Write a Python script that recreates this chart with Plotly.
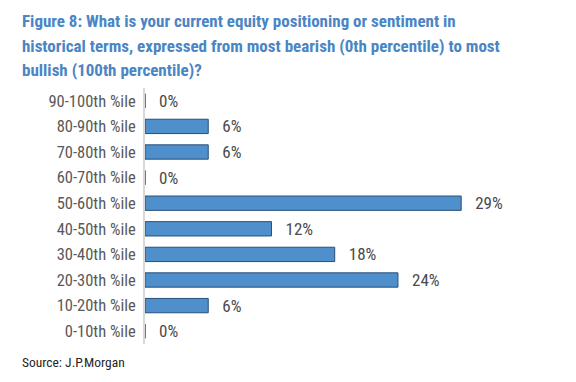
import plotly.graph_objects as go

categories = ["0-10th %ile", "10-20th %ile", "20-30th %ile", "30-40th %ile", "40-50th %ile",
              "50-60th %ile", "60-70th %ile", "70-80th %ile", "80-90th %ile", "90-100th %ile"]
# share of respondents (n=17)
values = [0.0, 1/17, 4/17, 3/17, 2/17, 5/17, 0.0, 1/17, 1/17, 0.0]

title_lines = [
    "Figure 8: What is your current equity positioning or sentiment in",
    "historical terms, expressed from most bearish (0th percentile) to most",
    "bullish (100th percentile)?",
]
source = "Source: J.P.Morgan"

FONT = "Roboto Condensed, Arial Narrow, sans-serif"

fig = go.Figure()
fig.add_trace(go.Bar(
    y=categories, x=values, orientation="h",
    marker=dict(color="#4F8FCC", line=dict(color="#274F7A", width=1)),
    text=["\u00a0\u00a0\u2009" + f"{v:.0%}" for v in values],
    textposition="outside", cliponaxis=False, constraintext="none",
    textfont=dict(family=FONT, size=17, color="#4A4A4A"),
    hoverinfo="skip",
))

W, H = 576, 382
ml, mr, mt, mb = 145, 44, 88, 38
fig.update_layout(
    width=W, height=H,
    margin=dict(l=ml, r=mr, t=mt, b=mb),
    paper_bgcolor="white", plot_bgcolor="white",
    showlegend=False, bargap=0.44,
    xaxis=dict(range=[0, 0.36], visible=False, fixedrange=True),
    yaxis=dict(showline=True, linecolor="#D9D9D9", linewidth=2, ticks="",
               tickfont=dict(family=FONT, size=16.5, color="#595959"),
               ticklabelstandoff=4, showgrid=False, zeroline=False,
               automargin=False, fixedrange=True),
)

baselines = [29, 54, 78]
for line, yb in zip(title_lines, baselines):
    fig.add_annotation(
        text="<b>" + line + "</b>", xref="paper", yref="paper",
        x=(20 - ml) / (W - ml - mr), y=1 + (mt - yb) / (H - mt - mb),
        xanchor="left", yanchor="bottom", showarrow=False, yshift=-4,
        font=dict(family=FONT, size=17, color="#4A85C4"),
    )

fig.add_annotation(
    text=source, xref="paper", yref="paper",
    x=(20 - ml) / (W - ml - mr), y=-(362 - (H - mb)) / (H - mt - mb),
    xanchor="left", yanchor="middle", showarrow=False,
    font=dict(family=FONT, size=13.5, color="#262626"),
)

fig.write_html("out.html", config={"displayModeBar": False},
               post_script="document.body.style.margin='0';")
